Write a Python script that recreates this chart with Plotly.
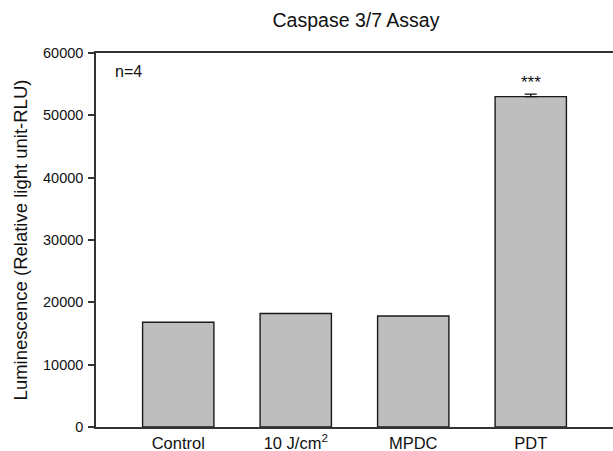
import plotly.graph_objects as go

categories = ["Control", "10 J/cm<sup>2</sup>", "MPDC", "PDT"]
values = [16800, 18200, 17800, 53000]
errors = [0, 0, 0, 400]
y_ticks = [0, 10000, 20000, 30000, 40000, 50000, 60000]
title_text = "Caspase 3/7 Assay"
y_title = "Luminescence (Relative light unit-RLU)"
sig_label = "***"
n_label = "n=4"

FONT = "Liberation Sans, Arial, sans-serif"

err_idx = [i for i, e in enumerate(errors) if e > 0]

fig = go.Figure()
fig.add_trace(go.Bar(
    x=categories,
    y=values,
    marker=dict(color="#bebebe", line=dict(color="#1a1a1a", width=1.4)),
    width=0.607,
    showlegend=False,
))
fig.add_trace(go.Scatter(
    x=[categories[i] for i in err_idx],
    y=[values[i] for i in err_idx],
    mode="markers",
    marker=dict(size=1, opacity=0),
    error_y=dict(type="data", array=[errors[i] for i in err_idx], arrayminus=[0]*len(err_idx),
                 symmetric=False, color="#111111", thickness=1.4, width=6),
    showlegend=False, hoverinfo="skip",
))

fig.add_annotation(x=categories[3], y=values[3] + errors[3], text=sig_label,
                   showarrow=False, yanchor="bottom", yshift=0,
                   font=dict(family=FONT, size=17, color="#111111"))
fig.add_annotation(x=0.033, y=0.95, xref="paper", yref="paper", text=n_label,
                   showarrow=False, xanchor="left", yanchor="middle",
                   font=dict(family=FONT, size=16, color="#111111"))

fig.update_layout(
    width=613, height=451,
    margin=dict(l=96, r=0, t=53, b=24, autoexpand=False),
    paper_bgcolor="white", plot_bgcolor="white",
    font=dict(family=FONT, color="#111111"),
    title=dict(text=title_text, x=356/613, xanchor="center", y=1 - 20/451, yanchor="middle",
               font=dict(family=FONT, size=19.5, color="#111111")),
)
fig.update_xaxes(
    range=[-0.7, 3.7], showgrid=False, zeroline=False,
    showline=True, linecolor="#333333", linewidth=1.5, mirror=True,
    ticks="", tickfont=dict(family=FONT, size=16.5, color="#111111"),
    ticklabelstandoff=0,
)
fig.update_yaxes(
    range=[0, 60000], tickvals=y_ticks, ticktext=[str(v) for v in y_ticks],
    showgrid=False, zeroline=False,
    showline=True, linecolor="#333333", linewidth=1.5, mirror=False,
    ticks="outside", ticklen=6, tickwidth=1.5, tickcolor="#333333",
    tickfont=dict(family=FONT, size=14.5, color="#111111"),
    ticklabelstandoff=2,
    title=dict(text=y_title, standoff=11, font=dict(family=FONT, size=18.5, color="#111111")),
)

fig.write_html(
    "out.html",
    config={"displayModeBar": False},
    post_script="document.body.style.margin='0';document.body.style.padding='0';document.body.style.overflow='hidden';",
)
